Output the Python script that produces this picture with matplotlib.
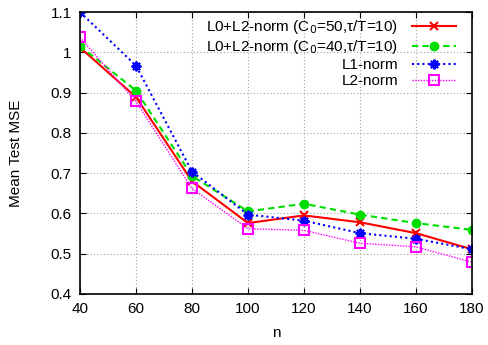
import numpy as np
import matplotlib
matplotlib.use('Agg')
import matplotlib.pyplot as plt

plt.rcParams['font.family'] = ['Liberation Sans', 'DejaVu Sans']

n_vals = [40, 60, 80, 100, 120, 140, 160, 180]
l0l2_c50 = [1.012, 0.889, 0.680, 0.576, 0.595, 0.578, 0.551, 0.511]
l0l2_c40 = [1.016, 0.905, 0.693, 0.605, 0.624, 0.597, 0.576, 0.559]
l1_norm = [1.100, 0.967, 0.704, 0.597, 0.582, 0.551, 0.537, 0.511]
l2_norm = [1.037, 0.878, 0.662, 0.562, 0.558, 0.526, 0.517, 0.479]

labels = ['L0+L2-norm (C$_0$=50,τ/T=10)', 'L0+L2-norm (C$_0$=40,τ/T=10)',
          'L1-norm', 'L2-norm']
xticks = [40, 60, 80, 100, 120, 140, 160, 180]
yticks = [0.4, 0.5, 0.6, 0.7, 0.8, 0.9, 1.0, 1.1]
ytick_labels = ['0.4', '0.5', '0.6', '0.7', '0.8', '0.9', '1', '1.1']

fig = plt.figure(figsize=(4.89, 3.45), dpi=100)
ax = fig.add_axes([0.1636, 0.148, 0.8014, 0.817])

ax.plot(n_vals, l0l2_c50, color='#ff0000', lw=1.5, ls='-', marker='x',
        ms=6, mew=1.5, label=labels[0])
ax.plot(n_vals, l0l2_c40, color='#00dd00', lw=1.5, ls=(0, (3, 2)), marker='o',
        ms=6, label=labels[1])
ax.plot(n_vals, l1_norm, color='#0000ff', lw=1.5, ls=(0, (1, 1.5)), marker=(8, 2, 0),
        ms=7, mew=1.5, label=labels[2])
ax.plot(n_vals, l2_norm, color='#ff00ff', lw=1.0, ls=(0, (1, 1)), marker='s',
        ms=7, mfc='none', mew=1.5, label=labels[3])

ax.set_xlim(40, 180)
ax.set_ylim(0.4, 1.1)
ax.set_xticks(xticks)
ax.set_yticks(yticks)
ax.set_yticklabels(ytick_labels)
ax.tick_params(direction='in', top=True, right=True, labelsize=11, length=4, pad=6)
ax.grid(True, color='#a0a0a0', ls=(0, (1, 2)), lw=0.8)
ax.set_axisbelow(True)
for s in ax.spines.values():
    s.set_linewidth(1.2)

ax.set_xlabel('n', fontsize=11, labelpad=7)
ax.set_ylabel('Mean Test MSE', fontsize=11, labelpad=20)

leg = ax.legend(loc='upper right', markerfirst=False, frameon=False, fontsize=11,
                handlelength=2.9, labelspacing=0.13, borderaxespad=0.0,
                handletextpad=0.9, bbox_to_anchor=(0.975, 1.0))
for t in leg.get_texts():
    t.set_ha('right')
leg._legend_box.align = 'right'

fig.savefig('out.png', dpi=100)
